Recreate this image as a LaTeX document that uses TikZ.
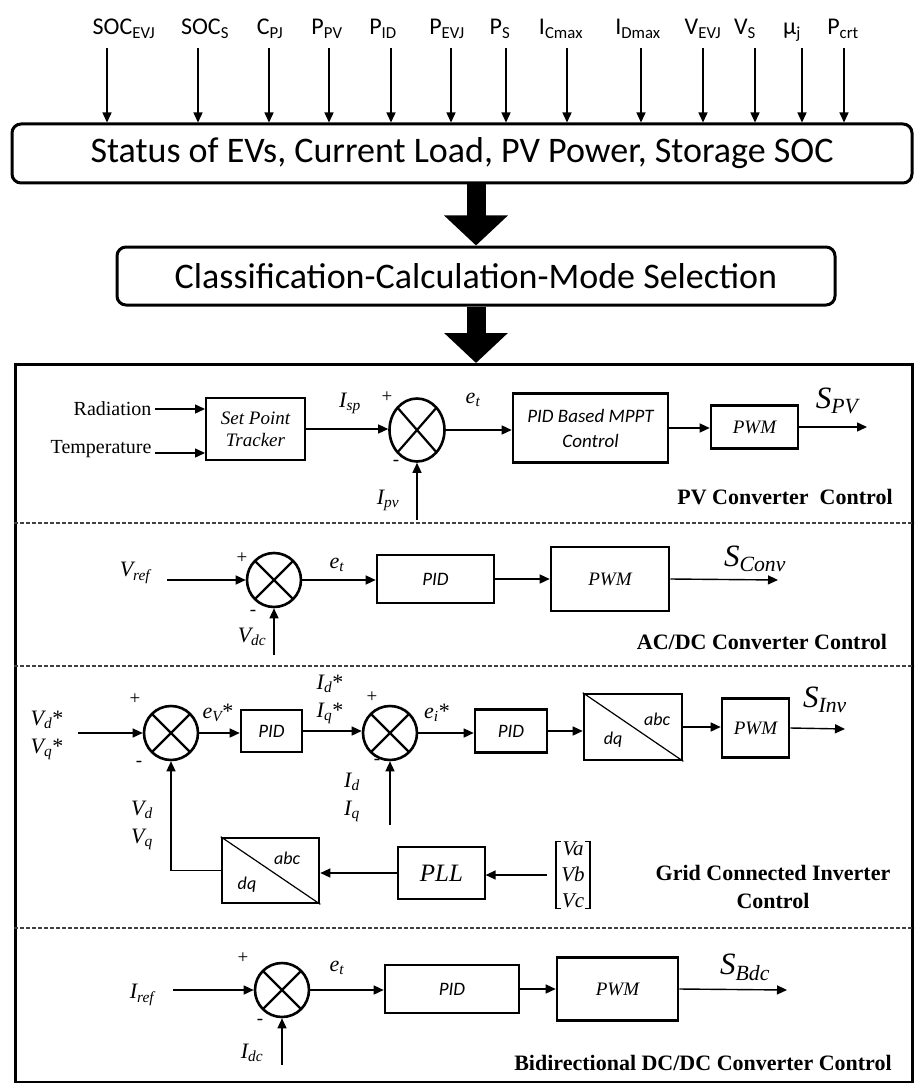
\documentclass[tikz,border=0pt]{standalone}
\usepackage{fontspec}
\setmainfont{Liberation Serif}
\newfontfamily\calib{Carlito}
\usetikzlibrary{arrows.meta,shapes.geometric}

\newcommand{\vsub}[2]{\textit{#1\textsubscript{#2}}}

\begin{document}
\begin{tikzpicture}[x=1pt,y=-1pt,
  sig/.style={line width=1.4pt,-{Triangle[length=10pt,width=9pt]}},
  fat/.style={line width=19pt,-{Triangle[length=30pt,width=62pt]}},
  rbox/.style={draw,line width=3pt,rounded corners=9pt,inner sep=0pt,font=\calib\fontsize{36}{40}\selectfont},
  blk/.style={draw,line width=2.6pt,inner sep=0pt,font=\fontsize{19}{22}\selectfont\itshape},
  pidblk/.style={blk,font=\calib\fontsize{19}{25}\selectfont\itshape},
  sumnode/.style={ellipse,draw,line width=2.6pt,inner sep=0pt,minimum width=54pt,minimum height=54pt,
    path picture={\draw[line width=2.2pt] (path picture bounding box.north west) -- (path picture bounding box.south east)
      (path picture bounding box.north east) -- (path picture bounding box.south west);}},
  toplbl/.style={anchor=base,inner sep=1pt,font=\calib\fontsize{24}{28}\selectfont},
  lbl/.style={font=\fontsize{22}{28}\selectfont},
  biglbl/.style={anchor=base,inner sep=0pt,font=\fontsize{31}{34}\selectfont},
  pm/.style={inner sep=0pt,font=\fontsize{19}{20}\selectfont},
  dqt/.style={inner sep=0pt,font=\calib\fontsize{18}{20}\selectfont\itshape},
  ctitle/.style={align=center,font=\bfseries\fontsize{22}{28}\selectfont},
  sepline/.style={line width=1.5pt,black!75,dash pattern=on 4pt off 2pt}]
\useasboundingbox (0,0) rectangle (914,1083);

% mode selection
\node[rbox,minimum width=900pt,minimum height=59pt] (stat) at (462,153.5) {Status of EVs, Current Load, PV Power, Storage SOC};
\node[rbox,minimum width=718pt,minimum height=58pt] (cls) at (476,276) {Classification-Calculation-Mode Selection};
\foreach \t/\lx/\ax [count=\i] in {SOC\textsubscript{EVJ}/124/107, SOC\textsubscript{S}/205/198,
    C\textsubscript{PJ}/270/269, P\textsubscript{PV}/327/329, P\textsubscript{ID}/383/391,
    P\textsubscript{EVJ}/447/451, P\textsubscript{S}/500/506, I\textsubscript{Cmax}/561/567,
    I\textsubscript{Dmax}/638/641, V\textsubscript{EVJ}/703/703, V\textsubscript{S}/745/755,
    μ\textsubscript{j}/792/802, P\textsubscript{crt}/843/844}{
  \node[toplbl] (in\i) at (\lx,35) {\t};
  \coordinate (a\i) at (\ax,48);
  \draw[sig] (a\i) -- (a\i |- stat.north);
}
\node[draw,line width=3pt,inner sep=0pt,minimum width=897pt,minimum height=718pt,anchor=north west] (frame) at (14,363) {};
\draw[fat] (stat.south -| cls.north) -- (cls.north);
\draw[fat] (cls.south) -- (cls.south |- frame.north);

% PV converter
\node[lbl,font=\fontsize{20}{24}\selectfont,anchor=east] (rad) at (155,409) {Radiation};
\node[lbl,font=\fontsize{20}{24}\selectfont,anchor=base east] (temp) at (155,453) {Temperature};
\node[blk,line width=2pt,minimum width=99pt,minimum height=62pt,align=center] (spt) at (255.5,429) {Set Point\\Tracker};
\draw[sig] (rad.east) -- (rad.east -| spt.west);
\draw[sig] (temp.base east) -- (temp.base east -| spt.west);
\node[sumnode,minimum width=55pt,minimum height=63pt] (s1) at (417,430) {};
\draw[sig] (spt.east) -- (spt.east -| s1.west);
\node[lbl] (isp) at (350,403) {\vsub{I}{sp}};
\node[pm] (p1) at (387,397) {+};
\node[pm] (m1) at (396,463) {-};
\coordinate (ipvin) at (417,520);
\draw[sig] (ipvin) -- (s1.south);
\node[lbl] (ipv) at (388,500) {\vsub{I}{pv}};
\node[pidblk,minimum width=155pt,minimum height=69pt,align=center] (mppt) at (590.5,428) {PID Based MPPT\\Control};
\draw[sig] (s1.east) -- (s1.east -| mppt.west);
\node[lbl] (et1) at (473,400) {\vsub{e}{t}};
\node[blk,minimum width=87pt,minimum height=43pt] (pwm1) at (754.5,427) {PWM};
\draw[sig] (mppt.east) -- (mppt.east -| pwm1.west);
\coordinate (o1) at (867,427);
\draw[sig] (pwm1.east) -- (o1);
\node[biglbl] (spv) at (837,408) {\vsub{S}{PV}};
\node[ctitle] (c1) at (785,497) {PV Converter\ \ Control};
\draw[sepline] (frame.west |- 0,523) -- (frame.east |- 0,523);

% AC/DC converter
\node[lbl] (vref) at (135,573) {\vsub{V}{ref}};
\coordinate (vrefin) at (167,580);
\node[sumnode] (s2) at (274,580) {};
\draw[sig] (vrefin) -- (s2.west);
\node[pm] (p2) at (242,558) {+};
\node[pm] (m2) at (253,613) {-};
\node[lbl] (vdc) at (252,637) {\vsub{V}{dc}};
\coordinate (vdcin) at (274,655);
\draw[sig] (vdcin) -- (s2.south);
\node[lbl] (et2) at (337,565) {\vsub{e}{t}};
\node[pidblk,minimum width=117pt,minimum height=48pt] (pid2) at (435.5,579) {PID};
\draw[sig] (s2.east) -- (s2.east -| pid2.west);
\node[blk,minimum width=118pt,minimum height=64pt] (pwm2) at (610,579) {PWM};
\draw[sig] (pid2.east) -- (pid2.east -| pwm2.west);
\coordinate (o2) at (778,580);
\draw[sig] (pwm2.east) -- (o2);
\node[biglbl] (sconv) at (755,566) {\vsub{S}{Conv}};
\node[ctitle] (c2) at (762,642) {AC/DC Converter Control};
\draw[sepline] (frame.west |- 0,666) -- (frame.east |- 0,666);

% grid connected inverter
\node[lbl,align=center] (vdqs) at (47,735) {\vsub{V}{d}*\\\vsub{V}{q}*};
\coordinate (vdqin) at (78,733);
\node[sumnode] (s3) at (171,733) {};
\draw[sig] (vdqin) -- (s3.west);
\node[pm] (p3) at (135,699) {+};
\node[pm] (m3) at (139,764) {-};
\node[lbl] (ev) at (218,713) {\vsub{e}{V}*};
\node[pidblk,minimum width=61pt,minimum height=42pt] (pida) at (271.5,731) {PID};
\draw[sig] (s3.east) -- (s3.east -| pida.west);
\node[lbl,align=center] (idqs) at (330,699) {\vsub{I}{d}*\\\vsub{I}{q}*};
\node[sumnode] (s4) at (390,733) {};
\draw[sig] (pida.east) -- (pida.east -| s4.west);
\node[pm] (p4) at (372,697) {+};
\node[pm] (m4) at (377,762) {-};
\node[lbl,align=center] (idq) at (352,797) {\vsub{I}{d}\\\vsub{I}{q}};
\coordinate (idqin) at (390,825);
\draw[sig] (idqin) -- (s4.south);
\node[lbl] (ei) at (437,713) {\vsub{e}{i}*};
\node[pidblk,minimum width=72pt,minimum height=43pt] (pidb) at (511,731) {PID};
\draw[sig] (s4.east) -- (s4.east -| pidb.west);
\node[blk,minimum width=98pt,minimum height=66pt] (tra) at (633,727) {};
\draw[line width=1.2pt] (tra.north west) -- (tra.south east);
\node[dqt] (abca) at (657,719) {abc};
\node[dqt] (dqa) at (613,740) {dq};
\draw[sig] (pidb.east) -- (pidb.east -| tra.west);
\node[blk,minimum width=67pt,minimum height=59pt] (pwm3) at (755.5,728) {PWM};
\draw[sig] (tra.east) -- (tra.east -| pwm3.west);
\coordinate (o3) at (845,729);
\draw[sig] (pwm3.east) -- (o3);
\node[biglbl] (sinv) at (825,707) {\vsub{S}{Inv}};
\node[blk,line width=1.2pt,minimum width=87pt,minimum height=52pt,font=\fontsize{25}{28}\selectfont\itshape] (pll) at (441.5,873) {PLL};
% grid voltages in brackets
\node[align=center,inner xsep=5pt,inner ysep=0pt,font=\fontsize{21}{26}\selectfont\itshape] (vabc) at (573,875) {Va\\Vb\\Vc};
\draw[line width=1.3pt] ([xshift=5pt]vabc.north west) -- (vabc.north west) -- (vabc.south west) -- ([xshift=5pt]vabc.south west)
  ([xshift=-5pt]vabc.north east) -- (vabc.north east) -- (vabc.south east) -- ([xshift=-5pt]vabc.south east);
\coordinate (vabcin) at ([xshift=-9pt]vabc.west);
\draw[sig] (vabcin) -- (vabcin -| pll.east);
\node[blk,minimum width=97pt,minimum height=65pt] (trb) at (270.5,870.5) {};
\draw[line width=1.2pt] (trb.north west) -- (trb.south east);
\node[dqt] (abcb) at (287,858) {abc};
\node[dqt] (dqb) at (247,885) {dq};
\draw[sig] (pll.west) -- (pll.west -| trb.east);
\draw[sig] (trb.west) -| (s3.south);
\node[lbl,align=center] (vdq) at (142,825) {\vsub{V}{d}\\\vsub{V}{q}};
\node[ctitle] (c3) at (773,887) {Grid Connected Inverter\\Control};
\draw[sepline] (frame.west |- 0,928) -- (frame.east |- 0,928);

% bidirectional DC/DC converter
\node[lbl] (iref) at (142,995) {\vsub{I}{ref}};
\coordinate (irefin) at (173,990);
\node[sumnode] (s5) at (282,990) {};
\draw[sig] (irefin) -- (s5.west);
\node[pm] (p5) at (243,958) {+};
\node[pm] (m5) at (260,1022) {-};
\node[lbl] (idc) at (252,1053) {\vsub{I}{dc}};
\coordinate (idcin) at (282,1065);
\draw[sig] (idcin) -- (s5.south);
\node[lbl] (et5) at (337,968) {\vsub{e}{t}};
\node[pidblk,minimum width=134pt,minimum height=48pt] (pid5) at (452,989) {PID};
\draw[sig] (s5.east) -- (s5.east -| pid5.west);
\node[blk,minimum width=121pt,minimum height=63pt] (pwm5) at (617.5,989) {PWM};
\draw[sig] (pid5.east) -- (pid5.east -| pwm5.west);
\coordinate (o5) at (787,990);
\draw[sig] (pwm5.east) -- (o5);
\node[biglbl] (sbdc) at (745,974) {\vsub{S}{Bdc}};
\node[ctitle] (c5) at (703,1063) {Bidirectional DC/DC Converter Control};
\end{tikzpicture}
\end{document}
